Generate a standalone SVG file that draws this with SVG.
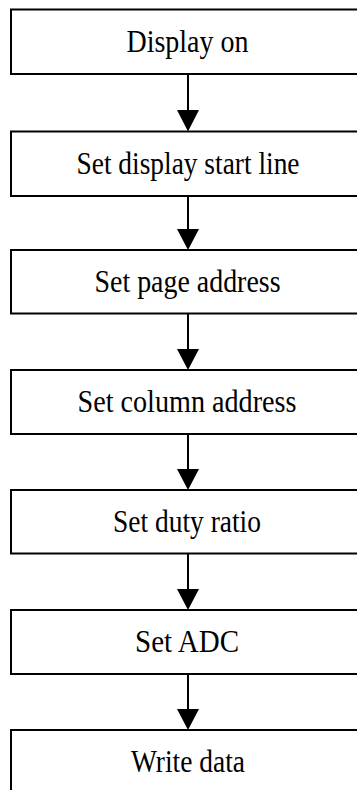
<svg xmlns="http://www.w3.org/2000/svg" width="357" height="790" viewBox="0 0 357 790">
<defs>
<style>
.box{fill:#fff;stroke:#000;stroke-width:2}
.lbl{font-family:"Liberation Serif","Times New Roman",serif;font-size:31px;fill:#000;text-anchor:middle}
.conn{stroke:#000;stroke-width:2;fill:none}
.head{fill:#000;stroke:none}
</style>
</defs>
<rect width="357" height="790" fill="#fff"/>
<g id="connectors">
<line class="conn" x1="188" y1="74" x2="188" y2="112"/>
<polygon class="head" points="177,110 199,110 188,131.5"/>
<line class="conn" x1="188" y1="196" x2="188" y2="231"/>
<polygon class="head" points="177,229 199,229 188,250"/>
<line class="conn" x1="188" y1="313.5" x2="188" y2="351"/>
<polygon class="head" points="177,349 199,349 188,370"/>
<line class="conn" x1="188" y1="434" x2="188" y2="471"/>
<polygon class="head" points="177,469 199,469 188,490"/>
<line class="conn" x1="188" y1="553.5" x2="188" y2="591"/>
<polygon class="head" points="177,589 199,589 188,610"/>
<line class="conn" x1="188" y1="674" x2="188" y2="711"/>
<polygon class="head" points="177,709 199,709 188,730"/>
</g>
<g id="n1"><rect class="box" x="11" y="9.5" width="354" height="64.5"/><text class="lbl" x="187.5" y="51.5" textLength="122" lengthAdjust="spacingAndGlyphs">Display on</text></g>
<g id="n2"><rect class="box" x="11" y="131.5" width="354" height="64.5"/><text class="lbl" x="188" y="174" textLength="223" lengthAdjust="spacingAndGlyphs">Set display start line</text></g>
<g id="n3"><rect class="box" x="11" y="250" width="354" height="63.5"/><text class="lbl" x="187.5" y="292" textLength="186" lengthAdjust="spacingAndGlyphs">Set page address</text></g>
<g id="n4"><rect class="box" x="11" y="370" width="354" height="64"/><text class="lbl" x="187" y="412" textLength="219" lengthAdjust="spacingAndGlyphs">Set column address</text></g>
<g id="n5"><rect class="box" x="11" y="490" width="354" height="63.5"/><text class="lbl" x="187" y="532" textLength="148" lengthAdjust="spacingAndGlyphs">Set duty ratio</text></g>
<g id="n6"><rect class="box" x="11" y="610" width="354" height="64"/><text class="lbl" x="187" y="652" textLength="104" lengthAdjust="spacingAndGlyphs">Set ADC</text></g>
<g id="n7"><rect class="box" x="11" y="730" width="354" height="64"/><text class="lbl" x="188" y="772" textLength="114" lengthAdjust="spacingAndGlyphs">Write data</text></g>
</svg>
